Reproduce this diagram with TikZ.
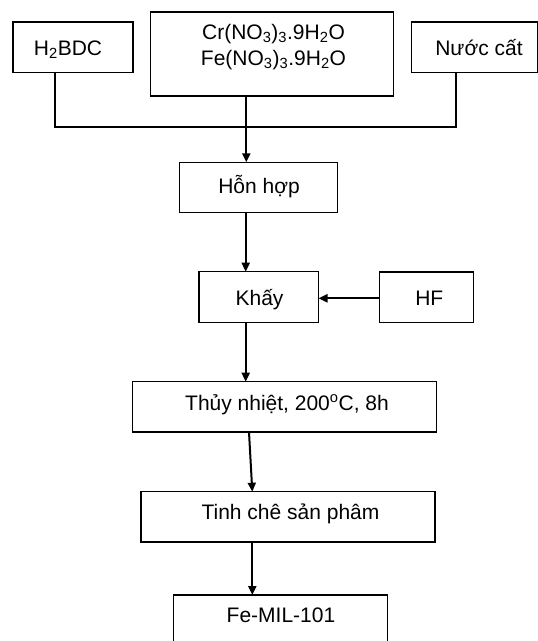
\documentclass[tikz,border=0pt]{standalone}
\usepackage{fontspec}
\setmainfont{Liberation Sans}
\usetikzlibrary{arrows.meta}
\tikzset{
  box/.style={draw=black, line width=1.4pt, rectangle},
  txt/.style={inner sep=0pt, outer sep=0pt, anchor=base, font=\fontsize{21}{25}\selectfont},
  bus/.style={line width=1.6pt},
  conn/.style={line width=2pt, -{Triangle[length=9pt,width=8pt]}},
}
\begin{document}
\begin{tikzpicture}[x=1pt,y=-1pt]
\useasboundingbox (0,0) rectangle (538,641);
\clip (0,0) rectangle (538,641);
% boxes
\path[box] (13,22) rectangle (133,72.5);
\coordinate (h2bdcS) at (55,72.5);
\path[box] (150.5,12) rectangle (393.5,96);
\coordinate (saltS) at (246.3,96);
\path[box] (411.3,22) rectangle (537.3,72.5);
\coordinate (waterS) at (455.7,72.5);
\path[box] (179.3,162.3) rectangle (337.3,212.7);
\coordinate (mixN) at (246.3,162.3);
\coordinate (mixS) at (245.7,212.7);
\path[box] (199,271.7) rectangle (318.5,322.7);
\coordinate (khayN) at (245.7,271.7);
\coordinate (khayS) at (245.7,322.7);
\coordinate (khayE) at (318.5,298.3);
\path[box] (379.3,272) rectangle (473.3,322.3);
\coordinate (hfW) at (379.3,298.3);
\path[box] (132.3,381.7) rectangle (436.7,432);
\coordinate (thuyN) at (245.7,381.7);
\coordinate (thuyS) at (249,432);
\path[box] (141,491.7) rectangle (435,542);
\coordinate (tinhN) at (252.3,491.7);
\coordinate (tinhS) at (252.3,542);
\path[box] (173.3,595) rectangle (387.7,660);
\coordinate (feN) at (252.3,595);
% texts
\node[txt] (t1) at (68,55.5) {H\textsubscript{2}BDC};
\node[txt] (t2) at (273.5,39) {Cr(NO\textsubscript{3})\textsubscript{3}.9H\textsubscript{2}O};
\node[txt] (t3) at (273.5,65.7) {Fe(NO\textsubscript{3})\textsubscript{3}.9H\textsubscript{2}O};
\node[txt] (t4) at (479,55.5) {Nước cất};
\node[txt] (t5) at (259,193.5) {Hỗn hợp};
\node[txt] (t6) at (259.5,305.7) {Khấy};
\node[txt] (t7) at (429.3,305.7) {HF};
\node[txt] (t8) at (287,410) {Thủy nhiệt, 200\textsuperscript{o}C, 8h};
\node[txt] (t9) at (290.5,519.3) {Tinh chê sản phâm};
\node[txt] (t10) at (281,622.3) {Fe-MIL-101};
% connectors
\coordinate (jl) at (55,126.7);
\coordinate (jr) at (455.7,126.7);
\draw[bus] (h2bdcS) -- (jl) -- (jr) -- (waterS);
\draw[conn] (saltS) -- (mixN);
\draw[conn] (mixS) -- (khayN);
\draw[conn] (hfW) -- (khayE);
\draw[conn] (khayS) -- (thuyN);
\draw[conn] (thuyS) -- (tinhN);
\draw[conn] (tinhS) -- (feN);
\end{tikzpicture}
\end{document}
